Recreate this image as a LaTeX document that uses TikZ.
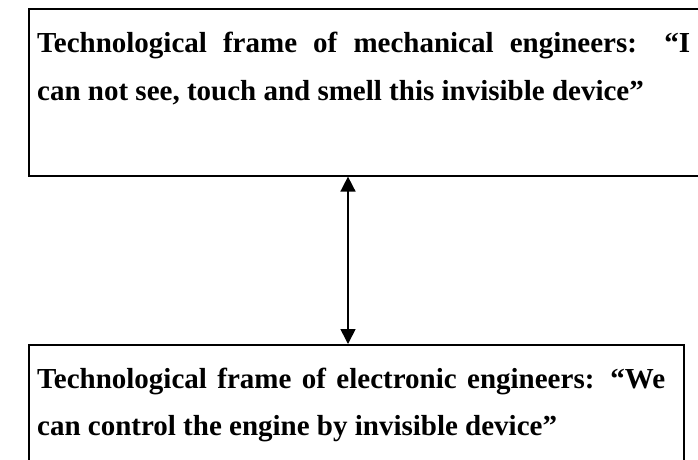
\documentclass[tikz,border=0pt]{standalone}
\usepackage{fontspec}
\setmainfont{Liberation Serif}
\usetikzlibrary{arrows.meta}
\tikzset{
  frame/.style={draw=black, line width=1.6pt, rectangle, inner sep=0pt, anchor=north west},
  txt/.style={anchor=base west, inner sep=0pt, font=\fontsize{29}{34}\selectfont\bfseries},
  link/.style={line width=1.6pt, {Triangle[length=15pt,width=15pt]}-{Triangle[length=15pt,width=15pt]}}
}
\begin{document}
\begin{tikzpicture}[x=1pt,y=1pt]
\useasboundingbox (0,0) rectangle (698,-459);
\clip (0,0) rectangle (698,-459);
% top box
\node[frame, minimum width=700pt, minimum height=167pt] (topbox) at (28,-8) {};
% bottom box
\node[frame, minimum width=655pt, minimum height=160pt] (botbox) at (28,-344) {};
% texts
\node[txt] (t1) at (37,-52) {\makebox[653pt][s]{Technological frame of mechanical engineers: “I}};
\node[txt] (t2) at (37,-100) {can not see, touch and smell this invisible device”};
\node[txt] (b1) at (37,-388) {\makebox[628pt][s]{Technological frame of electronic engineers: “We}};
\node[txt] (b2) at (37,-435) {can control the engine by invisible device”};
% connector
\coordinate (a) at (348,0);
\draw[link] (topbox.south -| a) -- (botbox.north -| a);
\end{tikzpicture}
\end{document}
